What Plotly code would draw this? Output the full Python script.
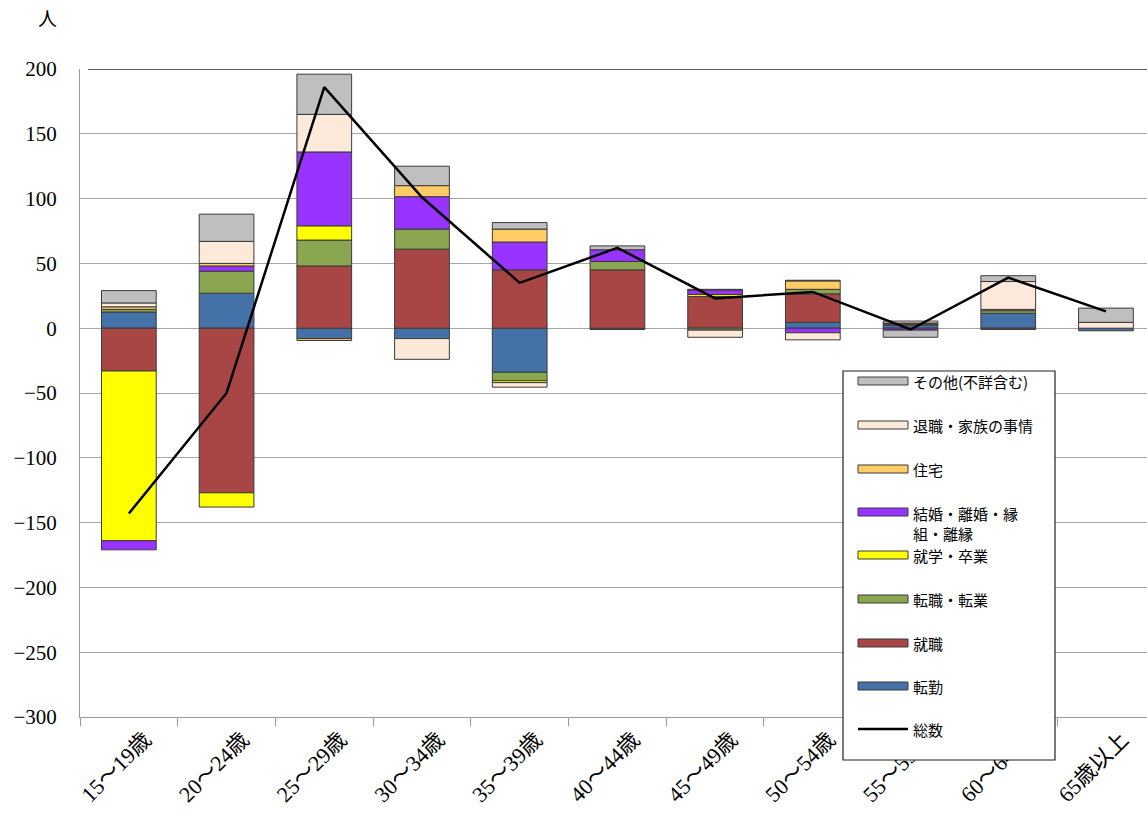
import plotly.graph_objects as go

categories = ["15～19歳", "20～24歳", "25～29歳", "30～34歳", "35～39歳", "40～44歳",
              "45～49歳", "50～54歳", "55～59歳", "60～64歳", "65歳以上"]

# stacked components (persons)
tenkin   = [12.5, 27, -8, -8, -34, -1, 0, 4.5, 2.5, 11.5, -2]          # 転勤
shushoku = [-33, -127, 48, 61, 45, 45, 24.5, 22, 1, -1, 0]              # 就職
tenshoku = [2, 17, 20, 15.5, -6.5, 6.5, -1.5, 3.5, 0.5, 2, 0]           # 転職・転業
shugaku  = [-131, -11, 11, 0, -1.5, 0, 1.5, 0, 0, 0, 0]                 # 就学・卒業
kekkon   = [-7, 4, 57, 25, 21.5, 9, 3.5, -3.5, -1.5, 0, 0]              # 結婚・離婚・縁組・離縁
jutaku   = [2, 2, -1.5, 8.5, 10, 0, 0.5, 6.5, 0, 1, 0]                  # 住宅
taishoku = [3, 17, 29, -16, -3.5, 0, -5.5, -5.5, 1.5, 21.5, 4.5]        # 退職・家族の事情
sonota   = [9.5, 21, 31, 15, 5, 3, 0, 0.5, -5.5, 4.5, 11]               # その他(不詳含む)
total    = [-143, -50, 186, 101, 35, 62, 23, 28, -1, 39, 13]            # 総数

series = [
    ("転勤", tenkin, "#4472A8"),
    ("就職", shushoku, "#A84645"),
    ("転職・転業", tenshoku, "#8BA651"),
    ("就学・卒業", shugaku, "#FFFF00"),
    ("結婚・離婚・縁組・離縁", kekkon, "#9933FF"),
    ("住宅", jutaku, "#FFCC66"),
    ("退職・家族の事情", taishoku, "#FDE9D9"),
    ("その他(不詳含む)", sonota, "#BFBFBF"),
]

fig = go.Figure()
for name, vals, col in series:
    fig.add_trace(go.Bar(
        x=categories, y=[v if v != 0 else None for v in vals], name=name,
        marker=dict(color=col, line=dict(color="#3A3A3A", width=1)),
        width=0.56, showlegend=False))

fig.add_trace(go.Scatter(x=categories, y=total, mode="lines", name="総数",
                         line=dict(color="black", width=2.5), showlegend=False))

L, T, B = 80, 69, 717
W = 1147 - L
H = B - T

def px(x):
    return (x - L) / W

def py(y):
    return (B - y) / H

shapes = [
    dict(type="line", xref="paper", yref="y", x0=px(88), x1=1, y0=200, y1=200,
         line=dict(color="#222222", width=1.5), layer="above"),
    # legend box
    dict(type="rect", xref="paper", yref="paper", x0=px(843), x1=px(1055),
         y0=py(760), y1=py(371), fillcolor="white",
         line=dict(color="#222222", width=1.2), layer="above"),
]
annotations = [
    dict(text="人", xref="paper", yref="paper", x=px(47), y=py(18),
         xanchor="center", yanchor="middle", showarrow=False,
         font=dict(family="Noto Sans CJK JP", size=19, color="black")),
]

legend_items = [
    ("その他(不詳含む)", "#BFBFBF", 381, None),
    ("退職・家族の事情", "#FDE9D9", 425, None),
    ("住宅", "#FFCC66", 469, None),
    ("結婚・離婚・縁<br>組・離縁", "#9933FF", 512, None),
    ("就学・卒業", "#FFFF00", 555, None),
    ("転職・転業", "#8BA651", 599, None),
    ("就職", "#A84645", 643, None),
    ("転勤", "#4472A8", 686, None),
    ("総数", None, 729, "line"),
]
for label, col, yc, kind in legend_items:
    if kind == "line":
        shapes.append(dict(type="line", xref="paper", yref="paper",
                           x0=px(858), x1=px(908), y0=py(yc), y1=py(yc),
                           line=dict(color="black", width=2.5), layer="above"))
    else:
        shapes.append(dict(type="rect", xref="paper", yref="paper",
                           x0=px(858), x1=px(908), y0=py(yc + 4), y1=py(yc - 4),
                           fillcolor=col, line=dict(color="#3A3A3A", width=1),
                           layer="above"))
    multi = "<br>" in label
    annotations.append(dict(text=label, xref="paper", yref="paper",
                            x=px(911), y=py(yc - 11) if multi else py(yc),
                            xanchor="left", yanchor="top" if multi else "middle",
                            align="left", showarrow=False,
                            font=dict(family="Noto Sans CJK JP", size=15, color="black")))

fig.update_layout(
    width=1147, height=825,
    margin=dict(l=L, r=0, t=T, b=825 - B),
    barmode="relative",
    plot_bgcolor="white", paper_bgcolor="white",
    shapes=shapes, annotations=annotations,
    showlegend=False,
    xaxis=dict(type="category", range=[-0.5, 10.42], showgrid=False,
               showline=True, linecolor="#9A9A9A", linewidth=1,
               ticks="outside", ticklen=8, tickcolor="#9A9A9A", tickson="boundaries",
               tickangle=-45, ticklabelshift=16,
               tickfont=dict(family="Liberation Serif, Noto Sans CJK JP", size=22, color="black")),
    yaxis=dict(range=[-300, 200], dtick=50, tick0=0, showgrid=True,
               gridcolor="#A6A6A6", gridwidth=1, zeroline=False,
               showline=True, linecolor="#9A9A9A", linewidth=1,
               ticks="", ticklabelstandoff=18,
               tickfont=dict(family="Liberation Serif", size=21, color="black")),
)

fig.write_html("out.html")
